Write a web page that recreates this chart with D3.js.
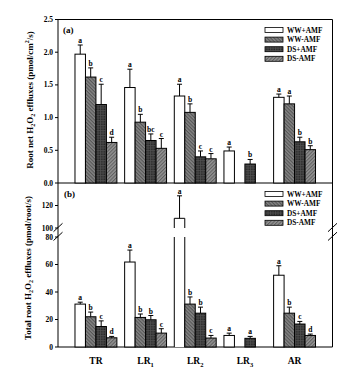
<!DOCTYPE html>
<html><head><meta charset="utf-8">
<script src="https://cdn.jsdelivr.net/npm/d3@7"></script>
<style>body{margin:0;background:#fff;-webkit-font-smoothing:antialiased}svg{display:block;opacity:0.999}text{font-family:"Liberation Serif","Times New Roman",serif;font-weight:bold;fill:#000}</style>
</head><body><svg id="c" width="355" height="378"></svg>
<script>
const categories = ["TR","LR1","LR2","LR3","AR"];
const catBase = ["TR","LR","LR","LR","AR"];
const catSub = ["","1","2","3",""];
const series = ["WW+AMF","WW-AMF","DS+AMF","DS-AMF"];

// Panel (a): root net H2O2 effluxes
const netWWp = [1.97,1.46,1.33,0.49,1.31];
const netWWm = [1.62,0.93,1.08,null,1.21];
const netDSp = [1.20,0.65,0.40,0.29,0.63];
const netDSm = [0.62,0.53,0.37,null,0.51];
const netErrWWp = [0.14,0.28,0.18,0.06,0.05];
const netErrWWm = [0.14,0.12,0.13,null,0.12];
const netErrDSp = [0.31,0.10,0.09,0.07,0.07];
const netErrDSm = [0.08,0.15,0.08,null,0.06];
const netLetWWp = ["a","a","a","a","a"];
const netLetWWm = ["b","b","b","","a"];
const netLetDSp = ["c","bc","c","b","b"];
const netLetDSm = ["d","c","c","","b"];

// Panel (b): total root H2O2 effluxes
const totWWp = [31.2,61.8,108.6,8.4,52.2];
const totWWm = [22.0,21.5,31.2,null,24.6];
const totDSp = [14.9,19.8,24.6,6.3,16.7];
const totDSm = [6.7,10.1,6.5,null,8.4];
const totErrWWp = [1.4,8.7,20.0,1.7,6.9];
const totErrWWm = [3.4,2.5,5.2,null,4.4];
const totErrDSp = [4.1,3.1,4.4,1.4,1.9];
const totErrDSm = [1.0,3.2,1.9,null,1.0];
const totLetWWp = ["a","a","a","a","a"];
const totLetWWm = ["b","b","b","","b"];
const totLetDSp = ["c","b","b","a","c"];
const totLetDSm = ["d","c","c","","d"];

const aTicks = [0,0.5,1.0,1.5,2.0,2.5];
const bTicksLow = [0,20,40,60,80];
const bTicksUp = [100,120];

const svg = d3.select("#c");
const L = 58, R = 332.5, aTop = 19.5, mid = 183, bBot = 347;

// patterns
const defs = svg.append("defs");
function pat(id, bg, fg, angle, cross){
  const p = defs.append("pattern").attr("id",id).attr("patternUnits","userSpaceOnUse")
    .attr("width",2.5).attr("height",2.5).attr("patternTransform",`rotate(${angle})`);
  p.append("rect").attr("width",2.5).attr("height",2.5).attr("fill",bg);
  p.append("line").attr("x1",0).attr("y1",0.6).attr("x2",2.5).attr("y2",0.6).attr("stroke",fg).attr("stroke-width",0.9);
  if(cross) p.append("line").attr("x1",0.6).attr("y1",0).attr("x2",0.6).attr("y2",2.5).attr("stroke",fg).attr("stroke-width",0.9);
}
pat("pWWm","#858585","#4a4a4a",45,false);
pat("pDSp","#262626","#505050",0,true);
pat("pDSm","#949494","#555",-45,false);
const fills = ["#fff","url(#pWWm)","url(#pDSp)","url(#pDSm)"];

const x = d3.scaleBand().domain(categories).range([L,R]).paddingInner(0.156).paddingOuter(0.342);
const xs = d3.scaleBand().domain(series).range([0,x.bandwidth()]);

const ya = d3.scaleLinear().domain([0,2.5]).range([mid,aTop]);
const ybLow = d3.scaleLinear().domain([0,80]).range([bBot,237]);
const ybUp = d3.scaleLinear().domain([100,140]).range([228,183]);
function yb(v){ return v<=80 ? ybLow(v) : (v>=100 ? ybUp(v) : ybLow(80)); }

function drawBars(g, vals, errs, lets, yf, broken){
  series.forEach((s,si)=>{
    categories.forEach((c,ci)=>{
      const v = vals[si][ci];
      if(v==null) return;
      const x0 = x(c)+xs(s), w = xs.bandwidth();
      const y0 = yf(0);
      if(broken && v>100){
        g.append("rect").attr("x",x0).attr("y",ybLow(80)).attr("width",w).attr("height",y0-ybLow(80)).attr("fill",fills[si]);
        g.append("path").attr("d",`M${x0},${y0}V${ybLow(80)}M${x0+w},${y0}V${ybLow(80)}`).attr("stroke","#000").attr("fill","none");
        g.append("rect").attr("x",x0).attr("y",ybUp(v)).attr("width",w).attr("height",ybUp(100)-ybUp(v)).attr("fill",fills[si]);
        g.append("path").attr("d",`M${x0},${ybUp(100)}V${ybUp(v)}H${x0+w}V${ybUp(100)}`).attr("stroke","#000").attr("fill","none");
      } else {
        g.append("rect").attr("x",x0).attr("y",yf(v)).attr("width",w).attr("height",y0-yf(v))
          .attr("fill",fills[si]).attr("stroke","#000").attr("stroke-width",1);
      }
      const e = errs[si][ci];
      const cx = x0 + w/2, yt = yf(v), ye = yf(v+e);
      g.append("line").attr("x1",cx).attr("x2",cx).attr("y1",yt).attr("y2",ye).attr("stroke","#000");
      g.append("line").attr("x1",cx-2.5).attr("x2",cx+2.5).attr("y1",ye).attr("y2",ye).attr("stroke","#000");
      g.append("text").attr("x",cx).attr("y",ye-2).attr("text-anchor","middle").attr("font-size",7.5).text(lets[si][ci]);
    });
  });
}

// frames
svg.append("path").attr("d",`M${L},${bBot}V${aTop}H${R}V${bBot}`).attr("stroke","#000").attr("fill","none");
svg.append("line").attr("x1",L).attr("x2",R).attr("y1",mid).attr("y2",mid).attr("stroke","#000");
svg.append("line").attr("x1",L).attr("x2",R).attr("y1",bBot).attr("y2",bBot).attr("stroke","#000");

const ga = svg.append("g");
drawBars(ga,[netWWp,netWWm,netDSp,netDSm],[netErrWWp,netErrWWm,netErrDSp,netErrDSm],[netLetWWp,netLetWWm,netLetDSp,netLetDSm],ya,false);
const gb = svg.append("g");
drawBars(gb,[totWWp,totWWm,totDSp,totDSm],[totErrWWp,totErrWWm,totErrDSp,totErrDSm],[totLetWWp,totLetWWm,totLetDSp,totLetDSm],yb,true);

// y axes
function ticks(vals, yf, fmt){
  vals.forEach(v=>{
    svg.append("line").attr("x1",L-3).attr("x2",L).attr("y1",yf(v)).attr("y2",yf(v)).attr("stroke","#000");
    svg.append("text").attr("x",L-5).attr("y",yf(v)+2.5).attr("text-anchor","end").attr("font-size",7.5).text(fmt(v));
  });
}
ticks(aTicks, ya, d3.format(".1f"));
ticks(bTicksLow, ybLow, d3.format("d"));
ticks(bTicksUp, ybUp, d3.format("d"));

// break marks
[L,R].forEach(bx=>{
  [[231.7,223.3],[240.5,232.2]].forEach(([y1,y2])=>{
    svg.append("line").attr("x1",bx-4.5).attr("x2",bx+4.5).attr("y1",y1).attr("y2",y2).attr("stroke","#000");
  });
});

// x labels
categories.forEach((c,i)=>{
  const t = svg.append("text").attr("x",x(c)+x.bandwidth()/2).attr("y",364).attr("text-anchor","middle").attr("font-size",9.5);
  t.append("tspan").text(catBase[i]);
  if(catSub[i]) t.append("tspan").attr("dy",2.5).attr("font-size",6.5).text(catSub[i]);
});

// panel labels
svg.append("text").attr("x",63).attr("y",33).attr("font-size",9).text("(a)");
svg.append("text").attr("x",64).attr("y",197).attr("font-size",9).text("(b)");

// legends
function legend(y0){
  series.forEach((s,i)=>{
    const y = y0 + i*9.6;
    svg.append("rect").attr("x",265).attr("y",y-2.5).attr("width",18).attr("height",5).attr("fill",fills[i]).attr("stroke","#000").attr("stroke-width",0.8);
    svg.append("text").attr("x",287).attr("y",y+2.5).attr("font-size",7.3).text(s);
  });
}
legend(30);
legend(194);

// y titles
function ytitle(xp, yc, pre, parts){
  const t = svg.append("text").attr("transform",`translate(${xp},${yc}) rotate(-90)`).attr("text-anchor","middle").attr("font-size",9);
  t.append("tspan").text(pre+"H");
  t.append("tspan").attr("dy",2).attr("font-size",6).text("2");
  t.append("tspan").attr("dy",-2).text("O");
  t.append("tspan").attr("dy",2).attr("font-size",6).text("2");
  parts.forEach(u=>{
    t.append("tspan").attr("dy",u.dy).attr("font-size",u.fs||9).text(u.t);
  });
}
ytitle(33, 100, "Root net ", [{t:" effluxes (pmol/cm",dy:-2},{t:"2",dy:-4,fs:6},{t:"/s)",dy:4}]);
ytitle(31, 268, "Total root ", [{t:" effluxes (pmol/root/s)",dy:-2}]);
</script></body></html>
